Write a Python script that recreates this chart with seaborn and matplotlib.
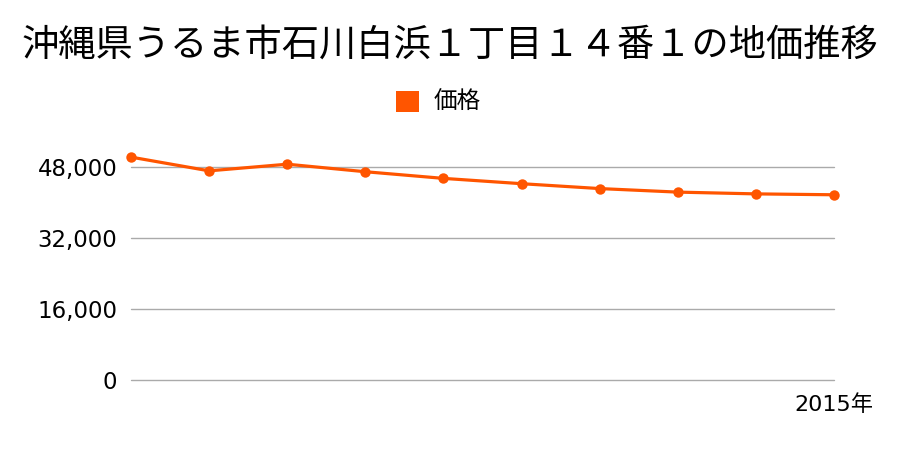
import matplotlib
matplotlib.use("Agg")
import matplotlib.pyplot as plt
from matplotlib.patches import Patch
import seaborn as sns
import pandas as pd

# Data
years = [2006, 2007, 2008, 2009, 2010, 2011, 2012, 2013, 2014, 2015]
prices = [50300, 47200, 48700, 47000, 45500, 44300, 43200, 42400, 42000, 41800]
yticks = [0, 16000, 32000, 48000]
title = "沖縄県うるま市石川白浜１丁目１４番１の地価推移"

sns.set_style("white")
plt.rcParams['font.family'] = ['Noto Sans CJK JP', 'DejaVu Sans']
plt.rcParams['text.color'] = 'black'
plt.rcParams['xtick.color'] = 'black'
plt.rcParams['ytick.color'] = 'black'

color = '#ff5500'
df = pd.DataFrame({"year": years, "price": prices})

fig = plt.figure(figsize=(9, 4.5), dpi=100)
ax = fig.add_axes([0.1456, 0.1556, 0.7811, 0.512])

sns.lineplot(data=df, x="year", y="price", ax=ax, color=color,
             linewidth=2.3, marker='o', markersize=7.5, markeredgewidth=0,
             clip_on=False, zorder=3)

ax.set_xlim(years[0], years[-1])
ax.set_ylim(0, 52000)
ax.set_yticks(yticks)
ax.set_yticklabels([f"{v:,}" for v in yticks], fontsize=16.5,
                   family=['DejaVu Sans'])
ax.set_xticks([years[-1]])
ax.set_xticklabels([f"{years[-1]}年"], fontsize=16,
                   family=['DejaVu Sans', 'Noto Sans CJK JP'])
ax.tick_params(axis='both', length=0)
ax.tick_params(axis='y', pad=10)
ax.tick_params(axis='x', pad=10)
ax.grid(axis='y', color='#aaaaaa', linewidth=1)
ax.set_axisbelow(True)
for s in ax.spines.values():
    s.set_visible(False)
ax.set_xlabel("")
ax.set_ylabel("")
for gl in ax.get_ygridlines():
    gl.set_clip_on(False)

fig.text(0.5, 0.90, title, ha='center', va='center', fontsize=26.8)

handle = Patch(facecolor=color, edgecolor='none', label='価格')
fig.legend(handles=[handle], loc='center', bbox_to_anchor=(0.487, 0.772),
           frameon=False, fontsize=17, handlelength=1.0, handleheight=1.0,
           handletextpad=0.6)

fig.savefig("out.png", dpi=100)
